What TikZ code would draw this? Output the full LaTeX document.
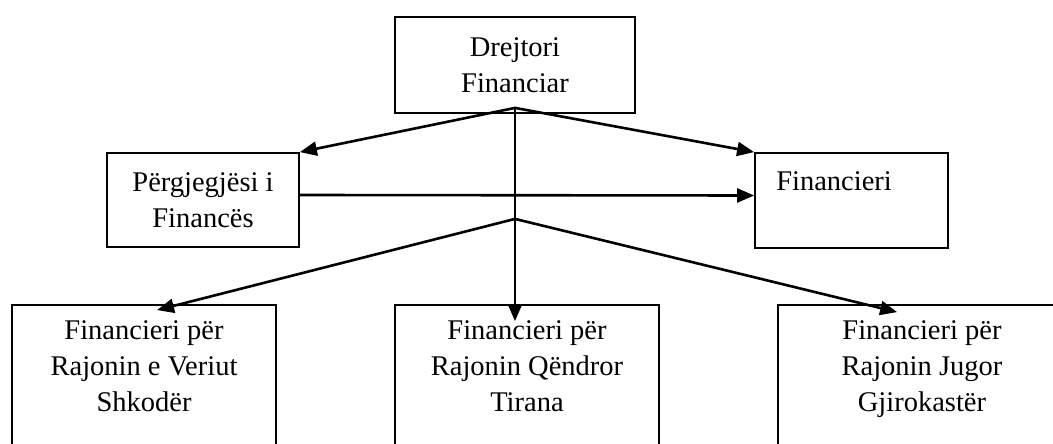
\documentclass[tikz,border=0pt]{standalone}
\usepackage{fontspec}
\setmainfont{Liberation Serif}
\usetikzlibrary{arrows.meta}
\usetikzlibrary{calc}
\tikzset{
    orgbox/.style = {draw, line width=1.8pt, inner sep=0pt},
    orgtext/.style = {align=center, font=\fontsize{28.5}{36}\selectfont, inner sep=0pt},
    orglink/.style = {line width=2.6pt, -{Triangle[length=17pt, width=14pt]}},
}
\begin{document}
\begin{tikzpicture}[x=1pt, y=-1pt]
            \clip (0, 0) rectangle (1053, 444);
            \node [orgbox, orgtext, minimum width=240pt, minimum height=96pt] (drejtori) at (515, 65) {Drejtori\\Financiar};
            \node [orgbox, orgtext, minimum width=192pt, minimum height=94pt] (pergjegjesi) at (203, 200) {Përgjegjësi i\\Financës};
            \node [orgbox, minimum width=193pt, minimum height=95pt] (financieri) at (851.5, 200.5) {};
            \node [orgtext, anchor=base west] (financieri-text) at ($(financieri.north west)+(22, 38)$) {Financieri};
            % bottom row, boxes run past the lower edge
            \node [orgbox, minimum width=264pt, minimum height=170pt] (veriut) at (144, 390) {};
            \node [orgbox, minimum width=264pt, minimum height=170pt] (qendror) at (527, 390) {};
            \node [orgbox, minimum width=300pt, minimum height=170pt] (jugor) at (928, 390) {};
            \node [orgtext, below] (veriut-text) at ($(veriut.north)+(0, 16)$) {Financieri për\\Rajonin e Veriut\\Shkodër};
            \node [orgtext, below] (qendror-text) at ($(qendror.north)+(0, 16)$) {Financieri për\\Rajonin Qëndror\\Tirana};
            \node [orgtext, below] (jugor-text) at ($(jugor.north)+(-6, 16)$) {Financieri për\\Rajonin Jugor\\Gjirokastër};
            \coordinate (hub) at ($(drejtori.south)+(0, -6)$);
            \coordinate (split) at ($(hub)+(0, 111)$);
            \draw [orglink] (hub) -- (pergjegjesi.north east);
            \draw [orglink] (hub) -- (financieri.north west);
            \draw [orglink] (hub) -- ($(hub |- qendror.north)+(0, 17)$);
            \draw [orglink] ($(pergjegjesi.east)+(0, -5)$) -- ($(financieri.west)+(0, -5)$);
            \draw [orglink] (split) -- ($(veriut.north)+(13, 6)$);
            \draw [orglink] (split) -- ($(jugor.north west)+(120, 8)$);
\end{tikzpicture}
\end{document}
